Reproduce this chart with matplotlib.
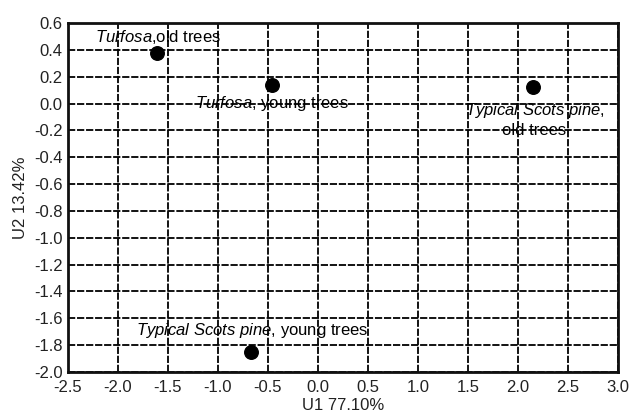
import matplotlib
matplotlib.use("Agg")
import matplotlib.pyplot as plt
import numpy as np

plt.rcParams['font.family'] = ['Liberation Sans', 'DejaVu Sans']
plt.rcParams['mathtext.fontset'] = 'custom'
plt.rcParams['mathtext.rm'] = 'Liberation Sans'
plt.rcParams['mathtext.it'] = 'Liberation Sans:italic'

groups = ["Turfosa old", "Turfosa young", "Typical old", "Typical young"]
u1 = [-1.61, -0.46, 2.15, -0.67]
u2 = [0.38, 0.14, 0.12, -1.85]

xticks = [-2.5, -2.0, -1.5, -1.0, -0.5, 0.0, 0.5, 1.0, 1.5, 2.0, 2.5, 3.0]
yticks = [0.6, 0.4, 0.2, 0.0, -0.2, -0.4, -0.6, -0.8, -1.0, -1.2, -1.4, -1.6, -1.8, -2.0]

fig = plt.figure(figsize=(6.35, 4.15), dpi=100)
ax = fig.add_axes([68/635, 1 - 372/415, 550/635, 349/415])

ax.scatter(u1, u2, s=95, color='black', zorder=5)

ax.set_xlim(-2.5, 3.0)
ax.set_ylim(-2.0, 0.6)
ax.set_xticks(xticks)
ax.set_yticks(yticks)
ax.set_xticklabels([f"{t:.1f}" for t in xticks])
ax.set_yticklabels([f"{t:.1f}" for t in yticks])
ax.tick_params(length=0, labelsize=12, colors='#222222')
ax.tick_params(axis='x', pad=6)
ax.tick_params(axis='y', pad=4)
ax.grid(True, color='black', linestyle=(0, (4, 1)), linewidth=1.3)
ax.set_axisbelow(True)
for s in ax.spines.values():
    s.set_linewidth(2)
    s.set_color('#111111')

ax.set_xlabel("U1 77.10%", fontsize=12, labelpad=2, color='#222222')
ax.set_ylabel("U2 13.42%", fontsize=12, labelpad=4, color='#222222')

fs = 12
ax.text(-1.6, 0.495, r"$\it{Turfosa}$" + ",old trees", fontsize=fs, ha='center', va='center')
ax.text(-0.46, 0.003, r"$\it{Turfosa}$" + ", young trees", fontsize=fs, ha='center', va='center')
ax.text(2.17, -0.05, r"$\it{Typical\ Scots\ pine}$" + ",", fontsize=fs, ha='center', va='center')
ax.text(2.16, -0.2, "old trees", fontsize=fs, ha='center', va='center')
ax.text(-0.66, -1.69, r"$\it{Typical\ Scots\ pine}$" + ", young trees", fontsize=fs, ha='center', va='center')

fig.savefig("out.png", dpi=100)
